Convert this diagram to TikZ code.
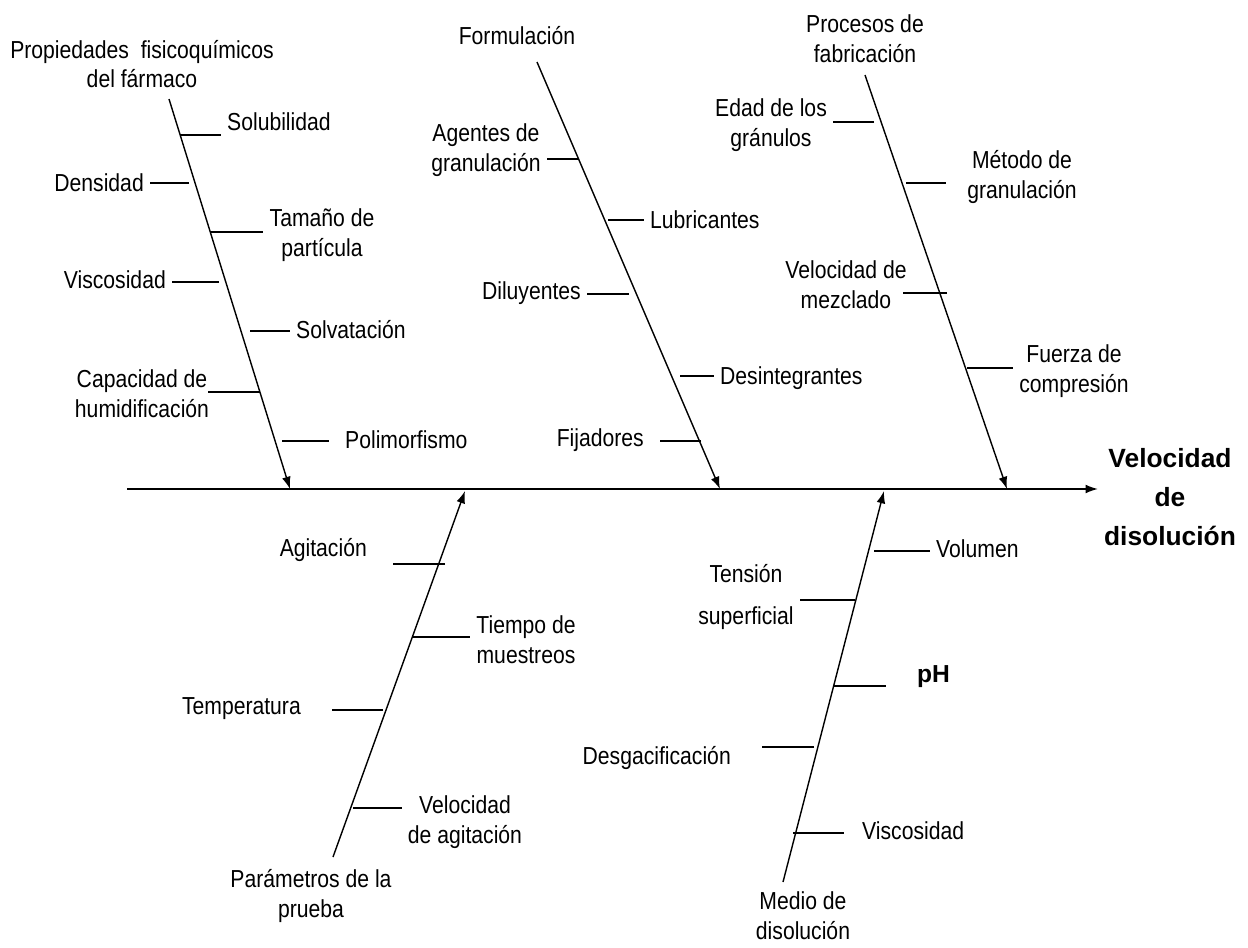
\documentclass[tikz,border=0pt]{standalone}
\usepackage{fontspec}
\setmainfont{Liberation Sans}
\newfontfamily\causefont{Liberation Sans}[FakeStretch=0.86]
\usetikzlibrary{arrows.meta, calc}

\tikzset{
    bone/.style={line width=0.8pt, -{Latex[length=7pt,width=5pt]}},
    rib/.style={line width=0.8pt},
    cause/.style={font=\causefont\fontsize{14}{17}\selectfont, align=center},
    effect/.style={font=\fontsize{15}{22}\selectfont\bfseries, align=center}
}

\begin{document}
\begin{tikzpicture}[x=0.02cm, y=-0.02cm]
    \useasboundingbox (0,0) rectangle (1248,947);

    % spine
    \node[effect] (vel) at (1170,497) {Velocidad\\de\\disolución};
    \coordinate (tail) at (127,489);
    \draw[bone] (tail) -- (tail -| vel.west);

    % propiedades
    \node[cause] (prop) at (142,64) {Propiedades\ \ fisicoquímicos\\del fármaco};
    \coordinate (b1s) at (169,99);
    \coordinate (b1e) at (290,489);
    \draw[bone] (b1s) -- (b1e);

    \node[cause, anchor=west] (solu) at (221,122) {Solubilidad};
    \node[cause, anchor=east] (dens) at (150,183) {Densidad};
    \node[cause] (tam) at (322,235) {Tamaño de\\partícula};
    \node[cause, anchor=east] (visc) at (172,280) {Viscosidad};
    \node[cause, anchor=west] (solv) at (290,330) {Solvatación};
    \node[cause] (cap) at (142,394) {Capacidad de\\humidificación};
    \node[cause, anchor=west] (poli) at (339,440) {Polimorfismo};

    \coordinate (r11) at (180,135);
    \coordinate (r12) at (189,183);
    \coordinate (r13) at (211,232);
    \coordinate (r14) at (219,282);
    \coordinate (r15) at (250,331);
    \coordinate (r16) at (260,392);
    \coordinate (r17) at (282,441);
    \draw[rib] (r11) -- (r11 -| solu.west);
    \draw[rib] (r12) -- (r12 -| dens.east);
    \draw[rib] (r13) -- (r13 -| tam.west);
    \draw[rib] (r14) -- (r14 -| visc.east);
    \draw[rib] (r15) -- (r15 -| solv.west);
    \draw[rib] (r16) -- ($(r16 -| cap.east) + (-0.15cm,0)$);
    \draw[rib] (r17) -- ($(r17 -| poli.west) + (-0.2cm,0)$);

    % formulacion
    \node[cause] (form) at (517,36) {Formulación};
    \coordinate (b2s) at (537,62);
    \coordinate (b2e) at (720,489);
    \draw[bone] (b2s) -- (b2e);

    \node[cause] (agen) at (486,150) {Agentes de\\granulación};
    \node[cause, anchor=west] (lubr) at (644,220) {Lubricantes};
    \node[cause, anchor=east] (dilu) at (587,293) {Diluyentes};
    \node[cause, anchor=west] (desi) at (714,378) {Desintegrantes};
    \node[cause, anchor=east] (fija) at (650,440) {Fijadores};

    \coordinate (r21) at (578,159);
    \coordinate (r22) at (608,220);
    \coordinate (r23) at (629,294);
    \coordinate (r24) at (680,376);
    \coordinate (r25) at (701,441);
    \draw[rib] (r21) -- (r21 -| agen.east);
    \draw[rib] (r22) -- (r22 -| lubr.west);
    \draw[rib] (r23) -- (r23 -| dilu.east);
    \draw[rib] (r24) -- (r24 -| desi.west);
    \draw[rib] (r25) -- ($(r25 -| fija.east) + (0.2cm,0)$);

    % procesos
    \node[cause] (proc) at (865,39) {Procesos de\\fabricación};
    \coordinate (b3s) at (865,75);
    \coordinate (b3e) at (1007,489);
    \draw[bone] (b3s) -- (b3e);

    \node[cause] (edad) at (771,125) {Edad de los\\gránulos};
    \node[cause] (meto) at (1022,177) {Método de\\granulación};
    \node[cause] (mezc) at (846,285) {Velocidad de\\mezclado};
    \node[cause] (fuer) at (1074,371) {Fuerza de\\compresión};

    \coordinate (r31) at (874,122);
    \coordinate (r32) at (906,183);
    \coordinate (r33) at (947,293);
    \coordinate (r34) at (967,368);
    \draw[rib] (r31) -- (r31 -| edad.east);
    \draw[rib] (r32) -- ($(r32 -| meto.west) + (-0.3cm,0)$);
    \draw[rib] (r33) -- ($(r33 -| mezc.east) + (-0.2cm,0)$);
    \draw[rib] (r34) -- (r34 -| fuer.west);

    % parametros
    \node[cause] (para) at (311,896) {Parámetros de la\\prueba};
    \coordinate (b4s) at (333,857);
    \coordinate (b4e) at (465,491);
    \draw[bone] (b4s) -- (b4e);

    \node[cause, anchor=east] (agit) at (373,550) {Agitación};
    \node[cause] (tiem) at (526,640) {Tiempo de\\muestreos};
    \node[cause, anchor=east] (temp) at (307,709) {Temperatura};
    \node[cause] (vagi) at (465,822) {Velocidad\\de agitación};

    \coordinate (r41) at (445,564);
    \coordinate (r42) at (413,637);
    \coordinate (r43) at (383,710);
    \coordinate (r44) at (353,808);
    \draw[rib] (r41) -- ($(r41 -| agit.east) + (0.4cm,0)$);
    \draw[rib] (r42) -- (r42 -| tiem.west);
    \draw[rib] (r43) -- ($(r43 -| temp.east) + (0.5cm,0)$);
    \draw[rib] (r44) -- (r44 -| vagi.west);

    % medio
    \node[cause] (medi) at (803,916) {Medio de\\disolución};
    \coordinate (b5s) at (783,882);
    \coordinate (b5e) at (884,491);
    \draw[bone] (b5s) -- (b5e);

    \node[cause, anchor=west] (volu) at (930,549) {Volumen};
    \node[cause] (tens) at (746,597) {Tensión\\[0.25cm]superficial};
    \node[cause, anchor=west, font=\fontsize{14}{17}\selectfont\bfseries] (ph) at (911,677) {pH};
    \node[cause, anchor=east] (desg) at (737,758) {Desgacificación};
    \node[cause, anchor=west] (visc2) at (856,831) {Viscosidad};

    \coordinate (r51) at (874,551);
    \coordinate (r52) at (855,600);
    \coordinate (r53) at (833,686);
    \coordinate (r54) at (814,747);
    \coordinate (r55) at (793,833);
    \draw[rib] (r51) -- (r51 -| volu.west);
    \draw[rib] (r52) -- (r52 -| tens.east);
    \draw[rib] (r53) -- ($(r53 -| ph.west) + (-0.5cm,0)$);
    \draw[rib] (r54) -- ($(r54 -| desg.east) + (0.5cm,0)$);
    \draw[rib] (r55) -- ($(r55 -| visc2.west) + (-0.25cm,0)$);

\end{tikzpicture}
\end{document}
